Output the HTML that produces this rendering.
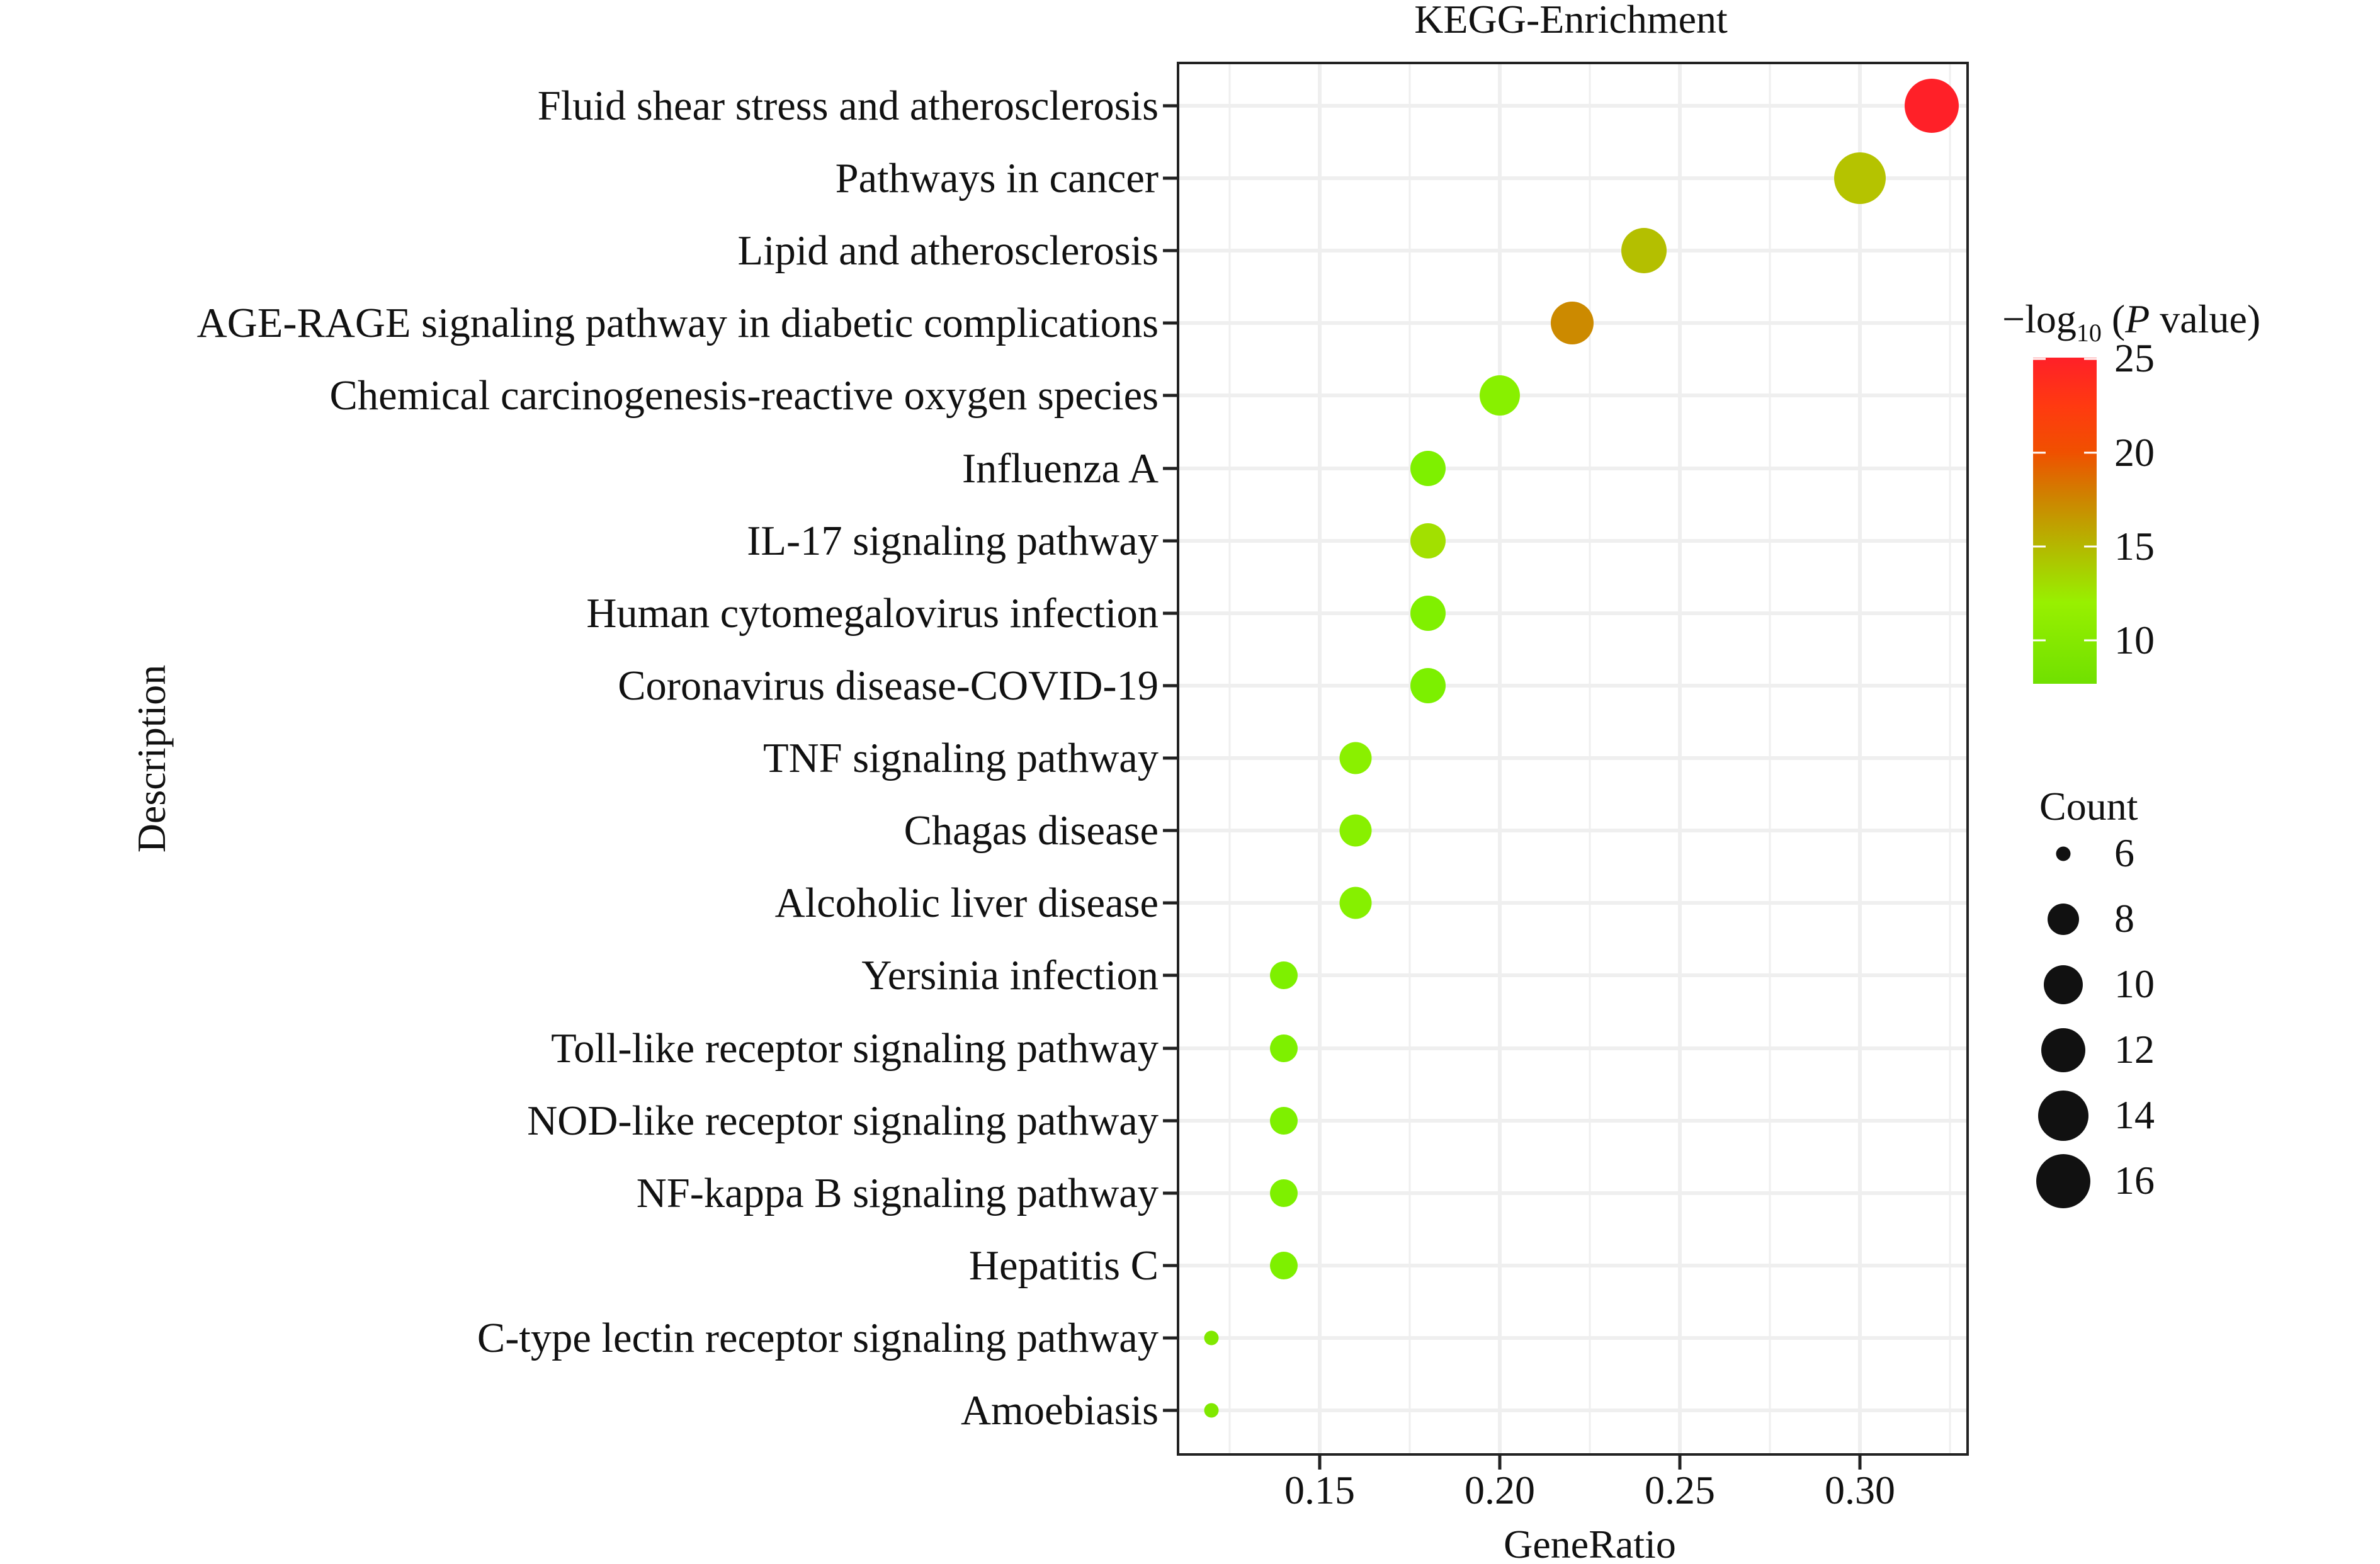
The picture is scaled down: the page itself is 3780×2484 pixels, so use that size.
<!DOCTYPE html>
<html><head><meta charset="utf-8"><style>html,body{margin:0;padding:0;background:#fff}svg{display:block}</style></head>
<body>
<svg width="3780" height="2484" viewBox="0 0 3780 2484" xmlns="http://www.w3.org/2000/svg" font-family="'Liberation Serif', serif">
<defs>
<linearGradient id="cb" x1="0" y1="0" x2="0" y2="1">
<stop offset="0" stop-color="#ff2028"/>
<stop offset="0.15" stop-color="#ff3a10"/>
<stop offset="0.29" stop-color="#f05000"/>
<stop offset="0.42" stop-color="#d08000"/>
<stop offset="0.58" stop-color="#b4b800"/>
<stop offset="0.75" stop-color="#98f000"/>
<stop offset="1" stop-color="#70e000"/>
</linearGradient>
</defs>
<rect width="3780" height="2484" fill="#fff"/>
<g stroke="#efefef">
<g stroke-width="3">
<line x1="1953" y1="100" x2="1953" y2="2310"/>
<line x1="2239" y1="100" x2="2239" y2="2310"/>
<line x1="2525" y1="100" x2="2525" y2="2310"/>
<line x1="2811" y1="100" x2="2811" y2="2310"/>
<line x1="3097" y1="100" x2="3097" y2="2310"/>
</g>
<g stroke-width="6">
<line x1="2096" y1="100" x2="2096" y2="2310"/>
<line x1="2382" y1="100" x2="2382" y2="2310"/>
<line x1="2668" y1="100" x2="2668" y2="2310"/>
<line x1="2954" y1="100" x2="2954" y2="2310"/>
</g>
</g>
<g stroke="#efefef" stroke-width="6">
<line x1="1871" x2="3125" y1="168" y2="168"/><line x1="1871" x2="3125" y1="283" y2="283"/><line x1="1871" x2="3125" y1="398" y2="398"/><line x1="1871" x2="3125" y1="513" y2="513"/><line x1="1871" x2="3125" y1="628" y2="628"/><line x1="1871" x2="3125" y1="744" y2="744"/><line x1="1871" x2="3125" y1="859" y2="859"/><line x1="1871" x2="3125" y1="974" y2="974"/><line x1="1871" x2="3125" y1="1089" y2="1089"/><line x1="1871" x2="3125" y1="1204" y2="1204"/><line x1="1871" x2="3125" y1="1319" y2="1319"/><line x1="1871" x2="3125" y1="1434" y2="1434"/><line x1="1871" x2="3125" y1="1549" y2="1549"/><line x1="1871" x2="3125" y1="1665" y2="1665"/><line x1="1871" x2="3125" y1="1780" y2="1780"/><line x1="1871" x2="3125" y1="1895" y2="1895"/><line x1="1871" x2="3125" y1="2010" y2="2010"/><line x1="1871" x2="3125" y1="2125" y2="2125"/><line x1="1871" x2="3125" y1="2240" y2="2240"/>
</g>
<circle cx="3068" cy="168" r="43" fill="#ff2028"/>
<circle cx="2954" cy="283" r="41" fill="#b5c300"/>
<circle cx="2611" cy="398" r="36" fill="#b4bf00"/>
<circle cx="2497" cy="513" r="34" fill="#cc8a00"/>
<circle cx="2382" cy="628" r="32" fill="#88f000"/>
<circle cx="2268" cy="744" r="28" fill="#7ef000"/>
<circle cx="2268" cy="859" r="28" fill="#a2e000"/>
<circle cx="2268" cy="974" r="28" fill="#80f000"/>
<circle cx="2268" cy="1089" r="28" fill="#7cf000"/>
<circle cx="2153" cy="1204" r="25.5" fill="#8af000"/>
<circle cx="2153" cy="1319" r="25.5" fill="#88f000"/>
<circle cx="2153" cy="1434" r="25.5" fill="#86f000"/>
<circle cx="2039" cy="1549" r="22" fill="#7ef000"/>
<circle cx="2039" cy="1665" r="22" fill="#7ef000"/>
<circle cx="2039" cy="1780" r="22" fill="#7ef000"/>
<circle cx="2039" cy="1895" r="22" fill="#7ef000"/>
<circle cx="2039" cy="2010" r="22" fill="#7ef000"/>
<circle cx="1924" cy="2125" r="11.5" fill="#80e800"/>
<circle cx="1924" cy="2240" r="11.5" fill="#80e800"/>
<rect x="1871" y="100" width="1254" height="2210" fill="none" stroke="#222" stroke-width="4"/>
<g stroke="#222" stroke-width="5">
<line x1="1847" x2="1871" y1="168" y2="168"/><line x1="1847" x2="1871" y1="283" y2="283"/><line x1="1847" x2="1871" y1="398" y2="398"/><line x1="1847" x2="1871" y1="513" y2="513"/><line x1="1847" x2="1871" y1="628" y2="628"/><line x1="1847" x2="1871" y1="744" y2="744"/><line x1="1847" x2="1871" y1="859" y2="859"/><line x1="1847" x2="1871" y1="974" y2="974"/><line x1="1847" x2="1871" y1="1089" y2="1089"/><line x1="1847" x2="1871" y1="1204" y2="1204"/><line x1="1847" x2="1871" y1="1319" y2="1319"/><line x1="1847" x2="1871" y1="1434" y2="1434"/><line x1="1847" x2="1871" y1="1549" y2="1549"/><line x1="1847" x2="1871" y1="1665" y2="1665"/><line x1="1847" x2="1871" y1="1780" y2="1780"/><line x1="1847" x2="1871" y1="1895" y2="1895"/><line x1="1847" x2="1871" y1="2010" y2="2010"/><line x1="1847" x2="1871" y1="2125" y2="2125"/><line x1="1847" x2="1871" y1="2240" y2="2240"/>
<line x1="2096" x2="2096" y1="2310" y2="2334"/><line x1="2382" x2="2382" y1="2310" y2="2334"/><line x1="2668" x2="2668" y1="2310" y2="2334"/><line x1="2954" x2="2954" y1="2310" y2="2334"/>
</g>
<g font-size="66.5" fill="#111" text-anchor="end">
<text x="1840" y="190">Fluid shear stress and atherosclerosis</text>
<text x="1840" y="305">Pathways in cancer</text>
<text x="1840" y="420">Lipid and atherosclerosis</text>
<text x="1840" y="535">AGE-RAGE signaling pathway in diabetic complications</text>
<text x="1840" y="650">Chemical carcinogenesis-reactive oxygen species</text>
<text x="1840" y="766">Influenza A</text>
<text x="1840" y="881">IL-17 signaling pathway</text>
<text x="1840" y="996">Human cytomegalovirus infection</text>
<text x="1840" y="1111">Coronavirus disease-COVID-19</text>
<text x="1840" y="1226">TNF signaling pathway</text>
<text x="1840" y="1341">Chagas disease</text>
<text x="1840" y="1456">Alcoholic liver disease</text>
<text x="1840" y="1571">Yersinia infection</text>
<text x="1840" y="1687">Toll-like receptor signaling pathway</text>
<text x="1840" y="1802">NOD-like receptor signaling pathway</text>
<text x="1840" y="1917">NF-kappa B signaling pathway</text>
<text x="1840" y="2032">Hepatitis C</text>
<text x="1840" y="2147">C-type lectin receptor signaling pathway</text>
<text x="1840" y="2262">Amoebiasis</text>
</g>
<g font-size="64" fill="#111" text-anchor="middle">
<text x="2096" y="2388">0.15</text>
<text x="2382" y="2388">0.20</text>
<text x="2668" y="2388">0.25</text>
<text x="2954" y="2388">0.30</text>
<text x="2525" y="2474">GeneRatio</text>
<text x="2495" y="52">KEGG-Enrichment</text>
<text transform="translate(262,1205) rotate(-90)">Description</text>
</g>
<g font-size="64" fill="#111">
<text x="3180" y="528">−log<tspan font-size="40" dy="14">10</tspan><tspan dy="-14"> (</tspan><tspan font-style="italic">P</tspan> value)</text>
</g>
<rect x="3229" y="568" width="101" height="518" fill="url(#cb)"/>
<g stroke="#fff" stroke-width="3">
<line x1="3229" x2="3249" y1="570" y2="570"/><line x1="3310" x2="3330" y1="570" y2="570"/>
<line x1="3229" x2="3249" y1="719" y2="719"/><line x1="3310" x2="3330" y1="719" y2="719"/>
<line x1="3229" x2="3249" y1="868" y2="868"/><line x1="3310" x2="3330" y1="868" y2="868"/>
<line x1="3229" x2="3249" y1="1017" y2="1017"/><line x1="3310" x2="3330" y1="1017" y2="1017"/>
</g>
<g font-size="64" fill="#111">
<text x="3358" y="590">25</text>
<text x="3358" y="740">20</text>
<text x="3358" y="889">15</text>
<text x="3358" y="1038">10</text>
<text x="3239" y="1302">Count</text>
<text x="3358" y="1376">6</text>
<text x="3358" y="1480">8</text>
<text x="3358" y="1584">10</text>
<text x="3358" y="1688">12</text>
<text x="3358" y="1792">14</text>
<text x="3358" y="1896">16</text>
</g>
<g fill="#111">
<circle cx="3277" cy="1356" r="11.5"/>
<circle cx="3277" cy="1460" r="25"/>
<circle cx="3277" cy="1564" r="31"/>
<circle cx="3277" cy="1668" r="35"/>
<circle cx="3277" cy="1772" r="40"/>
<circle cx="3277" cy="1876" r="43"/>
</g>
</svg>
</body></html>
